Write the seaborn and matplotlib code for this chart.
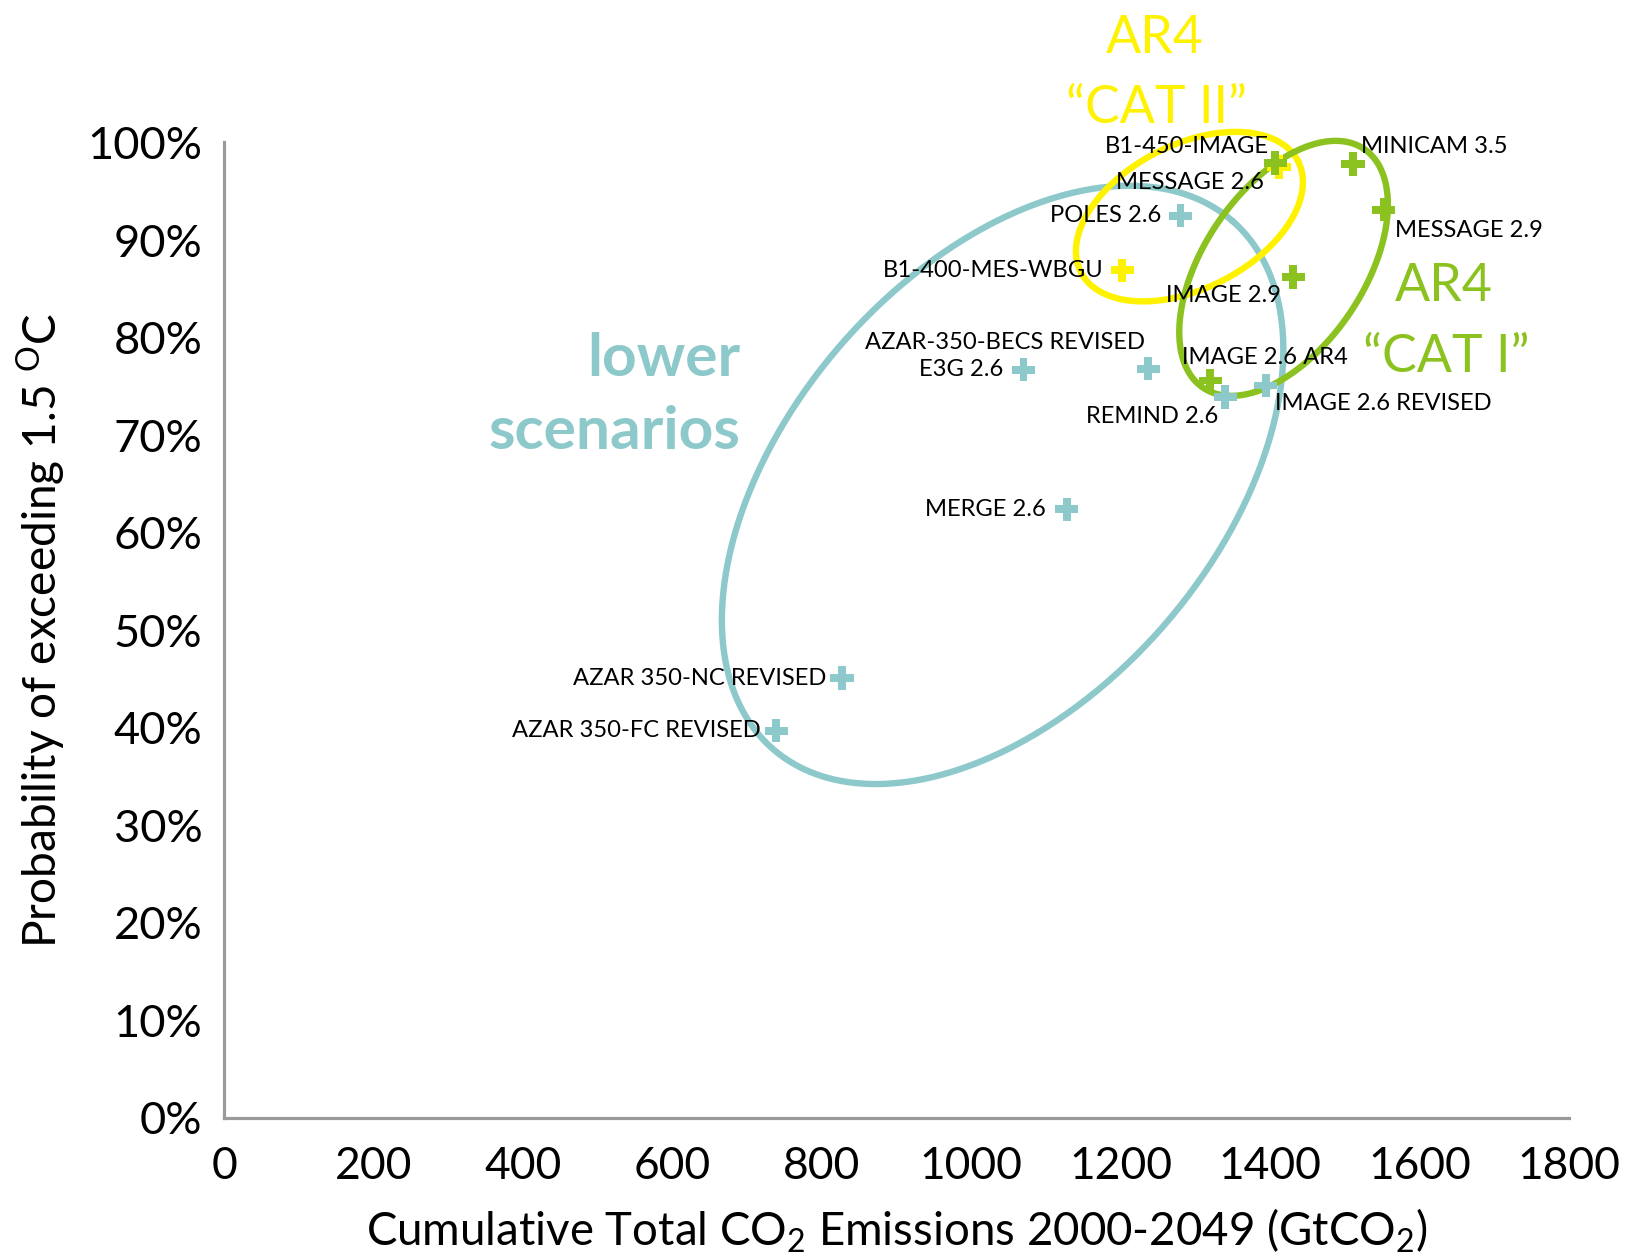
import numpy as np
import pandas as pd
import matplotlib
matplotlib.use("Agg")
import matplotlib.pyplot as plt
import seaborn as sns

# ---- data -------------------------------------------------------------
scenarios = [
    "AZAR 350-FC REVISED", "AZAR 350-NC REVISED", "MERGE 2.6", "E3G 2.6",
    "AZAR-350-BECS REVISED", "POLES 2.6", "REMIND 2.6", "IMAGE 2.6 REVISED",
    "B1-400-MES-WBGU", "B1-450-IMAGE",
    "MESSAGE 2.6", "MINICAM 3.5", "MESSAGE 2.9", "IMAGE 2.9", "IMAGE 2.6 AR4",
]
emissions = [739, 827, 1128, 1070, 1237, 1280, 1340, 1394,
             1202, 1412,
             1407, 1511, 1552, 1431, 1320]
probability = [39.7, 45.1, 62.4, 76.7, 76.8, 92.5, 73.9, 75.1,
               86.9, 97.5,
               97.9, 97.8, 93.1, 86.2, 75.6]
group = ["lower"] * 8 + ["cat2"] * 2 + ["cat1"] * 5

x_ticks = [0, 200, 400, 600, 800, 1000, 1200, 1400, 1600, 1800]
y_ticks = [0, 10, 20, 30, 40, 50, 60, 70, 80, 90, 100]
y_tick_labels = [f"{v}%" for v in y_ticks]

# ---- styling ----------------------------------------------------------
CYAN = "#8dc9cb"
YELLOW = "#fff200"
GREEN = "#8cc21f"
AXIS_GREY = "#9a9a9a"
palette = {"lower": CYAN, "cat2": YELLOW, "cat1": GREEN}

# label offsets (pixels) and alignment for each scenario name
label_style = {
    "AZAR 350-FC REVISED": (-15, 0, "right"),
    "AZAR 350-NC REVISED": (-16, 0, "right"),
    "MERGE 2.6": (-21, 0, "right"),
    "E3G 2.6": (-20, 0, "right"),
    "AZAR-350-BECS REVISED": (-3, 26, "right"),
    "POLES 2.6": (-19, 0, "right"),
    "REMIND 2.6": (-7, -19, "right"),
    "IMAGE 2.6 REVISED": (9, -18, "left"),
    "B1-400-MES-WBGU": (-19, 0, "right"),
    "B1-450-IMAGE": (-10, 20, "right"),
    "MESSAGE 2.6": (-11, -20, "right"),
    "MINICAM 3.5": (8, 17, "left"),
    "MESSAGE 2.9": (11, -21, "left"),
    "IMAGE 2.9": (-12, -18, "right"),
    "IMAGE 2.6 AR4": (-28, 23, "left"),
}

# grouping ellipses: centre (GtCO2, %), semi-axes (px), rotation (deg)
ellipses = [
    dict(center=(1042, 64.9), a=350, b=214, angle=49, color=CYAN),
    dict(center=(1292, 92.4), a=122, b=72, angle=27, color=YELLOW),
    dict(center=(1418, 87.1), a=144, b=80, angle=56, color=GREEN),
]

sns.set_theme(style="white")
FONT = ["Lato", "DejaVu Sans"]
plt.rcParams["font.family"] = FONT
plt.rcParams["mathtext.fontset"] = "custom"
plt.rcParams["mathtext.rm"] = "Lato"
plt.rcParams["mathtext.it"] = "Lato:italic"
plt.rcParams["mathtext.bf"] = "Lato:bold"

df = pd.DataFrame({"scenario": scenarios, "emissions": emissions,
                   "probability": probability, "group": group})

W, H = 1635, 1255
fig = plt.figure(figsize=(W / 100, H / 100), dpi=100)
ax = fig.add_axes([224 / W, 1 - 1118 / H, 1345 / W, 975.5 / H])
renderer = fig.canvas.get_renderer()


def fit_size(s, target_px, **kw):
    """Font size (pt) at which string s renders target_px wide."""
    probe = fig.text(0, 0, s, fontsize=20, **kw)
    w = probe.get_window_extent(renderer).width
    probe.remove()
    return 20.0 * target_px / w


ax.set_xlim(0, 1800)
ax.set_ylim(0, 100)

# ellipses drawn in screen-proportional space, converted to data units
pos = ax.get_position()
px_per_x = pos.width * W / 1800.0
px_per_y = pos.height * H / 100.0
t = np.linspace(0, 2 * np.pi, 500)
for e in ellipses:
    th = np.deg2rad(e["angle"])
    dx = e["a"] * np.cos(t) * np.cos(th) - e["b"] * np.sin(t) * np.sin(th)
    dy = e["a"] * np.cos(t) * np.sin(th) + e["b"] * np.sin(t) * np.cos(th)
    ax.plot(e["center"][0] + dx / px_per_x, e["center"][1] + dy / px_per_y,
            color=e["color"], lw=4.6, solid_capstyle="round", zorder=2,
            clip_on=False)

sns.scatterplot(data=df, x="emissions", y="probability", hue="group",
                palette=palette, marker="P", s=280, linewidth=0,
                legend=False, ax=ax, zorder=3, clip_on=False)

label_fs = fit_size("MERGE 2.6", 121)
for name, xv, yv in zip(scenarios, emissions, probability):
    dx, dy, ha = label_style[name]
    ax.annotate(name, (xv, yv), xytext=(dx, dy), textcoords="offset pixels",
                ha=ha, va="center", fontsize=label_fs, color="black",
                zorder=4)

# group captions
cap_fs = fit_size("scenarios", 252, fontweight="bold")
ax.text(691, 76.1, "lower", ha="right", va="baseline", fontsize=cap_fs,
        fontweight="bold", color=CYAN)
ax.text(691, 68.6, "scenarios", ha="right", va="baseline", fontsize=cap_fs,
        fontweight="bold", color=CYAN)
ar_fs = fit_size("\u201cCAT II\u201d", 181)
ax.text(1246, 109.2, "AR4", ha="center", va="baseline", fontsize=ar_fs,
        color=YELLOW, clip_on=False)
ax.text(1248, 102.0, "\u201cCAT II\u201d", ha="center", va="baseline",
        fontsize=ar_fs, color=YELLOW, clip_on=False)
ax.text(1632, 83.8, "AR4", ha="center", va="baseline", fontsize=ar_fs,
        color=GREEN, clip_on=False)
ax.text(1636, 76.5, "\u201cCAT I\u201d", ha="center", va="baseline",
        fontsize=ar_fs, color=GREEN, clip_on=False)

# axes
for side in ["top", "right"]:
    ax.spines[side].set_visible(False)
for side in ["left", "bottom"]:
    ax.spines[side].set_color(AXIS_GREY)
    ax.spines[side].set_linewidth(2.3)
    ax.spines[side].set_zorder(1)

ax.set_xticks(x_ticks)
ax.set_xticklabels([str(v) for v in x_ticks])
ax.set_yticks(y_ticks)
ax.set_yticklabels(y_tick_labels)
ax.tick_params(axis="both", direction="out", length=6.5, width=2.4,
               color=AXIS_GREY, labelcolor="black")
ax.tick_params(axis="x", labelsize=fit_size("1800", 103), pad=14)
ax.tick_params(axis="y", labelsize=fit_size("100%", 115), pad=9)

xlabel = "Cumulative Total CO$_2$ Emissions 2000-2049 (GtCO$_2$)"
ylabel = "Probability of exceeding 1.5 $^{\\mathrm{O}}$C"
ax.set_xlabel(xlabel, fontsize=fit_size(xlabel, 1063), color="black")
ax.set_ylabel(ylabel, fontsize=fit_size(ylabel, 636), color="black")
ax.xaxis.set_label_coords(0.5, -0.091)
ax.yaxis.set_label_coords(-0.116, 0.5)

fig.savefig("out.png", dpi=100, facecolor="white")
